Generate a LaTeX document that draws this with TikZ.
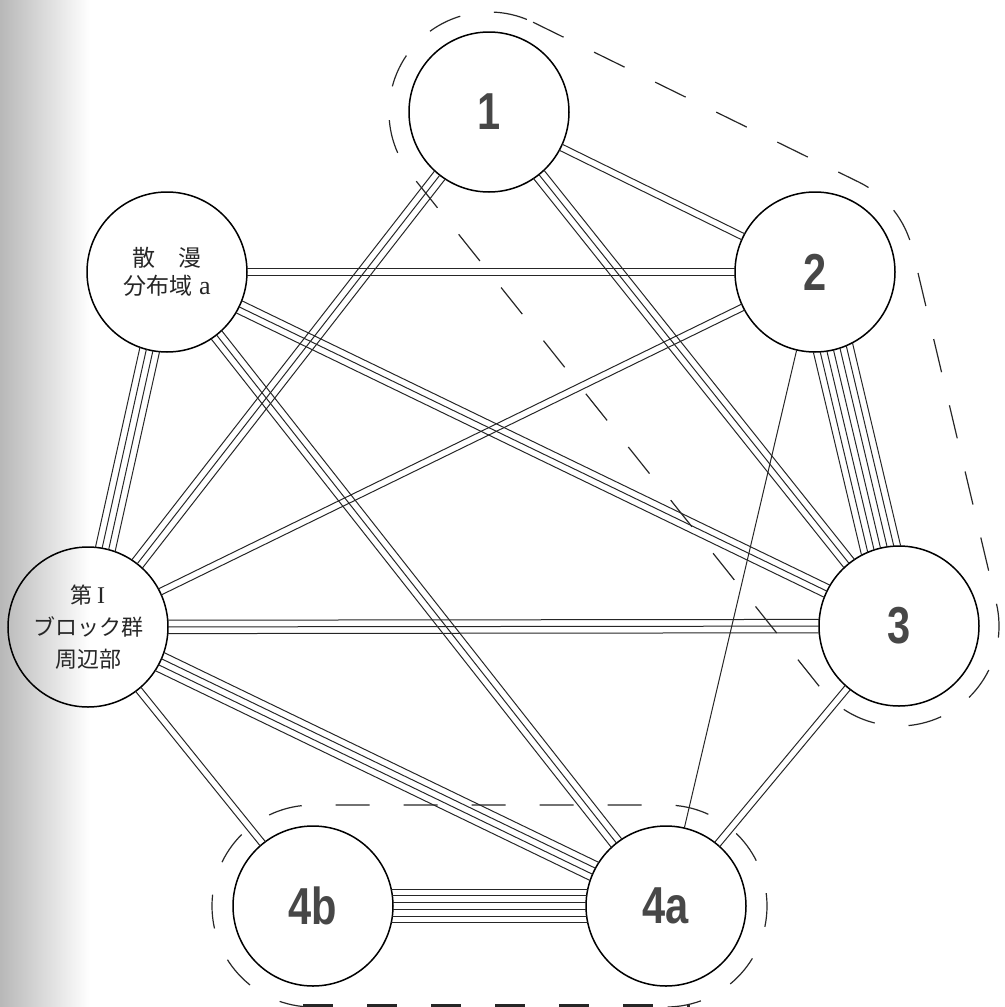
\documentclass[tikz,border=0pt]{standalone}
\usepackage{fontspec}
\newfontfamily\numfont[FakeStretch=0.8]{Liberation Sans Bold}
\newfontfamily\jpfont{Noto Sans CJK JP}
\newfontfamily\serifa{Liberation Serif}
\usetikzlibrary{calc}
\tikzset{
  site/.style={circle, draw, line width=0.75pt, minimum size=80pt, inner sep=0pt},
  numlabel/.style={font=\numfont\fontsize{26}{26}\selectfont, text=black!72},
  jplabel/.style={font=\jpfont\fontsize{11.5}{15}\selectfont, align=center, text=black!85},
  link/.style={line width=0.5pt, black!85},
  hull/.style={line width=0.6pt, dash pattern=on 17pt off 17pt, black!85},
  hullbold/.style={line width=1.5pt, dash pattern=on 15pt off 17pt, black!85},
}
\newcommand\bundle[3]{%
  \foreach \k in {1,...,#3}{%
    \pgfmathsetmacro\off{(\k-(#3+1)/2)*3.35}%
    \draw[link] ($(#1.center)!\off pt!90:(#2.center)$) -- ($(#2.center)!\off pt!-90:(#1.center)$);
  }}
\begin{document}
\begin{tikzpicture}[x=0.5pt,y=-0.5pt]
\useasboundingbox (0,0) rectangle (1005,1007);
% scan shadow at the left edge
\shade[left color=black!28, right color=white] (0,0) rectangle (90,1007);

% sites
\node[site, numlabel] (n1)  at (489,112) {1};
\node[site, numlabel] (n2)  at (815,272) {2};
\node[site, numlabel] (n3)  at (899,626) {3};
\node[site, numlabel] (n4a) at (666,906) {4a};
\node[site, numlabel] (n4b) at (313,906) {4b};
\node[site, jplabel]  (nS)  at (167,272) {散\hspace{1em}漫\\[-1pt]分布域\hspace{0.3em}{\serifa\fontsize{13}{15}\selectfont a}};
\node[site, jplabel, font=\jpfont\fontsize{11}{16}\selectfont] (nB) at (88,627) {第\hspace{0.2em}{\serifa\fontsize{12}{16}\selectfont I}\\ブロック群\\周辺部};

% connectors, clipped outside the circles
\begin{scope}[even odd rule]
\clip (-20,-20) rectangle (1030,1030)
  (n1.center) circle[radius=80] (n2.center) circle[radius=80]
  (n3.center) circle[radius=80] (n4a.center) circle[radius=80]
  (n4b.center) circle[radius=80] (nS.center) circle[radius=80]
  (nB.center) circle[radius=80];
\bundle{n1}{n2}{2}
\bundle{n1}{n3}{3}
\bundle{n1}{nB}{3}
\bundle{nS}{n2}{2}
\bundle{nS}{n3}{3}
\bundle{nS}{n4a}{3}
\bundle{nS}{nB}{4}
\bundle{n2}{nB}{2}
\bundle{n2}{n3}{7}
\bundle{n2}{n4a}{1}
\bundle{nB}{n3}{3}
\bundle{n3}{n4a}{2}
\bundle{nB}{n4a}{4}
\bundle{n4b}{n4a}{6}
\bundle{nB}{n4b}{2}
\end{scope}

% group outline around 1, 2, 3
\draw[hull] (533.06,22.22) -- (859.06,182.22)
  arc[start angle=-63.86, end angle=-13.35, radius=100]
  -- (996.30,602.91)
  arc[start angle=-13.35, end angle=141.42, radius=100]
  -- (410.82,174.36)
  arc[start angle=141.42, end angle=296.14, radius=100] -- cycle;

% group outline around 4a, 4b
\draw[hull] (313,1007) arc[start angle=90, end angle=270, radius=101]
  -- (666,805) arc[start angle=-90, end angle=90, radius=101];
\draw[hullbold] (303,1005.5) -- (690,1005.5);
\end{tikzpicture}
\end{document}
